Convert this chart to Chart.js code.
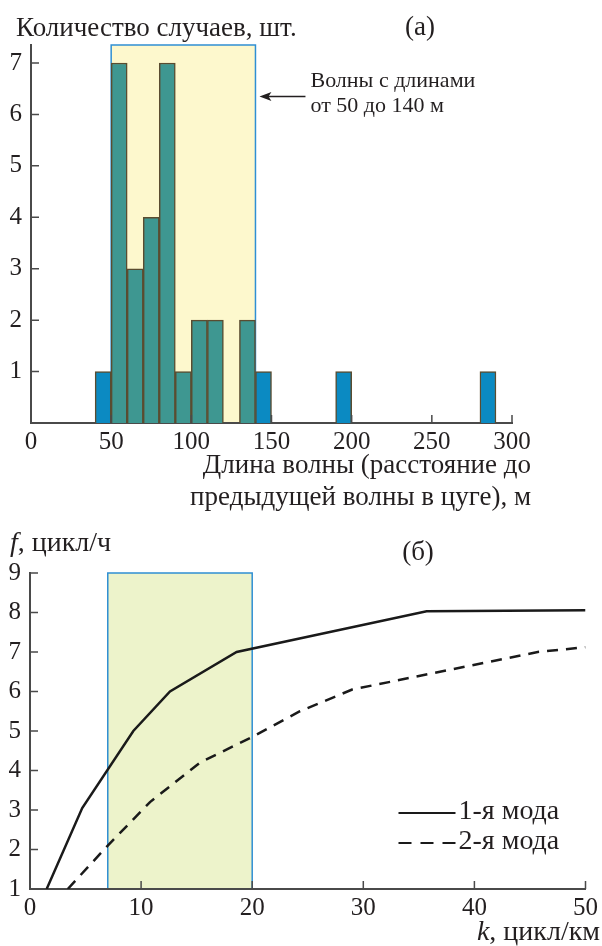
<!DOCTYPE html>
<html>
<head>
<meta charset="utf-8">
<script src="https://cdn.jsdelivr.net/npm/chart.js@4.4.1/dist/chart.umd.min.js"></script>
<style>
html, body { margin: 0; padding: 0; background: #fff; }
#wrap { position: relative; width: 602px; height: 946px; }
canvas { position: absolute; left: 0; }
#chartA { top: 0; }
#chartB { top: 520px; }
</style>
</head>
<body>
<div id="wrap">
  <canvas id="chartA" width="602" height="520"></canvas>
  <canvas id="chartB" width="602" height="426"></canvas>
</div>
<script>
// (а) гистограмма длин волн, бины по 10 м
var binCenters = [45, 55, 65, 75, 85, 95, 105, 115, 135, 145, 195, 285];
var binCounts  = [1, 7, 3, 4, 7, 1, 2, 2, 2, 1, 1, 1];
var bandA = [50, 140];
var xTicksA = [0, 50, 100, 150, 200, 250, 300];
var yTicksA = [1, 2, 3, 4, 5, 6, 7];

// (б) дисперсионные кривые
var mode1K = [1.5, 4.7, 9.3, 12.6, 18.6, 35.7, 50];
var mode1F = [1, 3.05, 5.0, 6.0, 7.0, 8.03, 8.06];
var mode2K = [3.4, 7, 10.8, 15.3, 20, 24.3, 29, 45.7, 50];
var mode2F = [1, 2.1, 3.2, 4.2, 4.85, 5.5, 6.05, 7.0, 7.12];
var modeNames = ['1-я мода', '2-я мода'];
var bandB = [7, 20];
var xTicksB = [0, 10, 20, 30, 40, 50];
var yTicksB = [1, 2, 3, 4, 5, 6, 7, 8, 9];

var SERIF = '"Liberation Serif", "Times New Roman", serif';
var INK = '#231f20';
var AXIS = '#4a4a4a';
var TEAL = '#3e9791';
var BLUE = '#0b8ac2';

Chart.defaults.font.family = SERIF;
Chart.defaults.font.size = 25;
Chart.defaults.color = INK;

function text(ctx, s, x, y, size, align, style) {
  ctx.save();
  ctx.font = (style || 'normal') + ' ' + size + 'px ' + SERIF;
  ctx.fillStyle = INK;
  ctx.textAlign = align || 'left';
  ctx.textBaseline = 'alphabetic';
  ctx.fillText(s, x, y);
  var w = ctx.measureText(s).width;
  ctx.restore();
  return w;
}

function band(chart, range, fill, stroke) {
  var xs = chart.scales.x, ys = chart.scales.y, ctx = chart.ctx;
  var x0 = xs.getPixelForValue(range[0]), x1 = xs.getPixelForValue(range[1]);
  ctx.save();
  ctx.fillStyle = fill;
  ctx.fillRect(x0, ys.top, x1 - x0, ys.bottom - ys.top);
  ctx.strokeStyle = stroke;
  ctx.lineWidth = 1.5;
  ctx.strokeRect(x0, ys.top, x1 - x0, ys.bottom - ys.top);
  ctx.restore();
}

// засечки внутрь графика
function innerTicks(chart) {
  var ctx = chart.ctx, xs = chart.scales.x, ys = chart.scales.y;
  ctx.save();
  ctx.strokeStyle = AXIS;
  ctx.lineWidth = 1.5;
  ctx.beginPath();
  xs.ticks.forEach(function (t) {
    var px = xs.getPixelForValue(t.value);
    if (Math.abs(px - xs.left) < 2) return;
    ctx.moveTo(px, xs.top); ctx.lineTo(px, xs.top - 8);
  });
  ys.ticks.forEach(function (t) {
    var py = ys.getPixelForValue(t.value);
    if (Math.abs(py - ys.bottom) < 2) return;
    ctx.moveTo(ys.right, py); ctx.lineTo(ys.right + 8, py);
  });
  ctx.stroke();
  ctx.restore();
}

function axisOpts(min, max, list, pad, fit) {
  return {
    type: 'linear', min: min, max: max, offset: false,
    grid: { display: false, drawTicks: false },
    border: { display: true, color: AXIS, width: 2 },
    ticks: { autoSkip: false, maxRotation: 0, padding: pad, color: INK, font: { size: 25 } },
    afterBuildTicks: function (s) { s.ticks = list.map(function (v) { return { value: v }; }); },
    afterFit: fit
  };
}

new Chart(document.getElementById('chartA'), {
  type: 'bar',
  data: {
    datasets: [{
      data: binCenters.map(function (x, i) { return { x: x, y: binCounts[i] }; }),
      backgroundColor: function (c) {
        var x = binCenters[c.dataIndex];
        return (x > bandA[0] && x < bandA[1]) ? TEAL : BLUE;
      },
      borderColor: '#5a4c30',
      borderWidth: 1.5,
      barPercentage: 1,
      categoryPercentage: 1
    }]
  },
  options: {
    responsive: false,
    animation: false,
    devicePixelRatio: 1,
    layout: { padding: { top: 45, left: 1, right: 90, bottom: 67 } },
    plugins: { legend: { display: false }, tooltip: { enabled: false } },
    scales: {
      x: axisOpts(0, 300, xTicksA, 4, function (s) { s.height = 30; }),
      y: axisOpts(0, 7.35, yTicksA, 9, function (s) { s.width = 30; })
    }
  },
  plugins: [{
    id: 'decorA',
    beforeDraw: function (chart) { band(chart, bandA, '#fdf8cd', '#2f8fd3'); },
    afterDraw: function (chart) {
      var ctx = chart.ctx, xs = chart.scales.x, ys = chart.scales.y;
      innerTicks(chart);
      text(ctx, 'Количество случаев, шт.', 16, 36, 27);
      text(ctx, '(а)', 420, 35, 27, 'center');
      // стрелка к выделенной области
      var tipX = xs.getPixelForValue(bandA[1]) + 4, ay = ys.getPixelForValue(6.35);
      ctx.save();
      ctx.strokeStyle = INK; ctx.fillStyle = INK; ctx.lineWidth = 1.5;
      ctx.beginPath(); ctx.moveTo(tipX + 8, ay); ctx.lineTo(tipX + 46, ay); ctx.stroke();
      ctx.beginPath(); ctx.moveTo(tipX, ay); ctx.lineTo(tipX + 12, ay - 4.5); ctx.lineTo(tipX + 9, ay); ctx.lineTo(tipX + 12, ay + 4.5); ctx.closePath(); ctx.fill();
      ctx.restore();
      text(ctx, 'Волны с длинами', tipX + 51, 87, 22);
      text(ctx, 'от 50 до 140 м', tipX + 51, 112, 22);
      text(ctx, 'Длина волны (расстояние до', 531, 473, 27, 'right');
      text(ctx, 'предыдущей волны в цуге), м', 531, 505, 27, 'right');
    }
  }]
});

new Chart(document.getElementById('chartB'), {
  type: 'line',
  data: {
    datasets: [{
      label: modeNames[0],
      data: mode1K.map(function (k, i) { return { x: k, y: mode1F[i] }; }),
      borderColor: '#1a1a1a', borderWidth: 2.5, pointRadius: 0, fill: false, tension: 0
    }, {
      label: modeNames[1],
      data: mode2K.map(function (k, i) { return { x: k, y: mode2F[i] }; }),
      borderColor: '#1a1a1a', borderWidth: 2.5, borderDash: [11, 8], pointRadius: 0, fill: false, tension: 0
    }]
  },
  options: {
    responsive: false,
    animation: false,
    devicePixelRatio: 1,
    layout: { padding: { top: 53, left: 0, right: 15, bottom: 27 } },
    plugins: { legend: { display: false }, tooltip: { enabled: false } },
    scales: {
      x: axisOpts(0, 50, xTicksB, 4, function (s) { s.height = 30; }),
      y: axisOpts(1, 9, yTicksB, 9, function (s) { s.width = 30; })
    }
  },
  plugins: [{
    id: 'decorB',
    beforeDraw: function (chart) { band(chart, bandB, '#edf3cb', '#2f8fd3'); },
    afterDraw: function (chart) {
      var ctx = chart.ctx, area = chart.chartArea;
      innerTicks(chart);
      var w = text(ctx, 'f', 10, 31, 28, 'left', 'italic');
      text(ctx, ', цикл/ч', 10 + w, 31, 28);
      text(ctx, '(б)', 418, 40, 27, 'center');
      var kw = text(ctx, ', цикл/км', 600, 420, 28, 'right');
      text(ctx, 'k', 600 - kw, 420, 28, 'right', 'italic');
      // легенда
      chart.data.datasets.forEach(function (ds, i) {
        var ly = area.bottom - 76 + i * 30;
        ctx.save();
        ctx.strokeStyle = ds.borderColor; ctx.lineWidth = 2;
        ctx.setLineDash(ds.borderDash ? [13, 9] : []);
        ctx.beginPath(); ctx.moveTo(area.right - 187, ly); ctx.lineTo(area.right - 130, ly); ctx.stroke();
        ctx.restore();
        text(ctx, ds.label, area.right - 127, ly + 6, 28);
      });
    }
  }]
});
</script>
</body>
</html>
